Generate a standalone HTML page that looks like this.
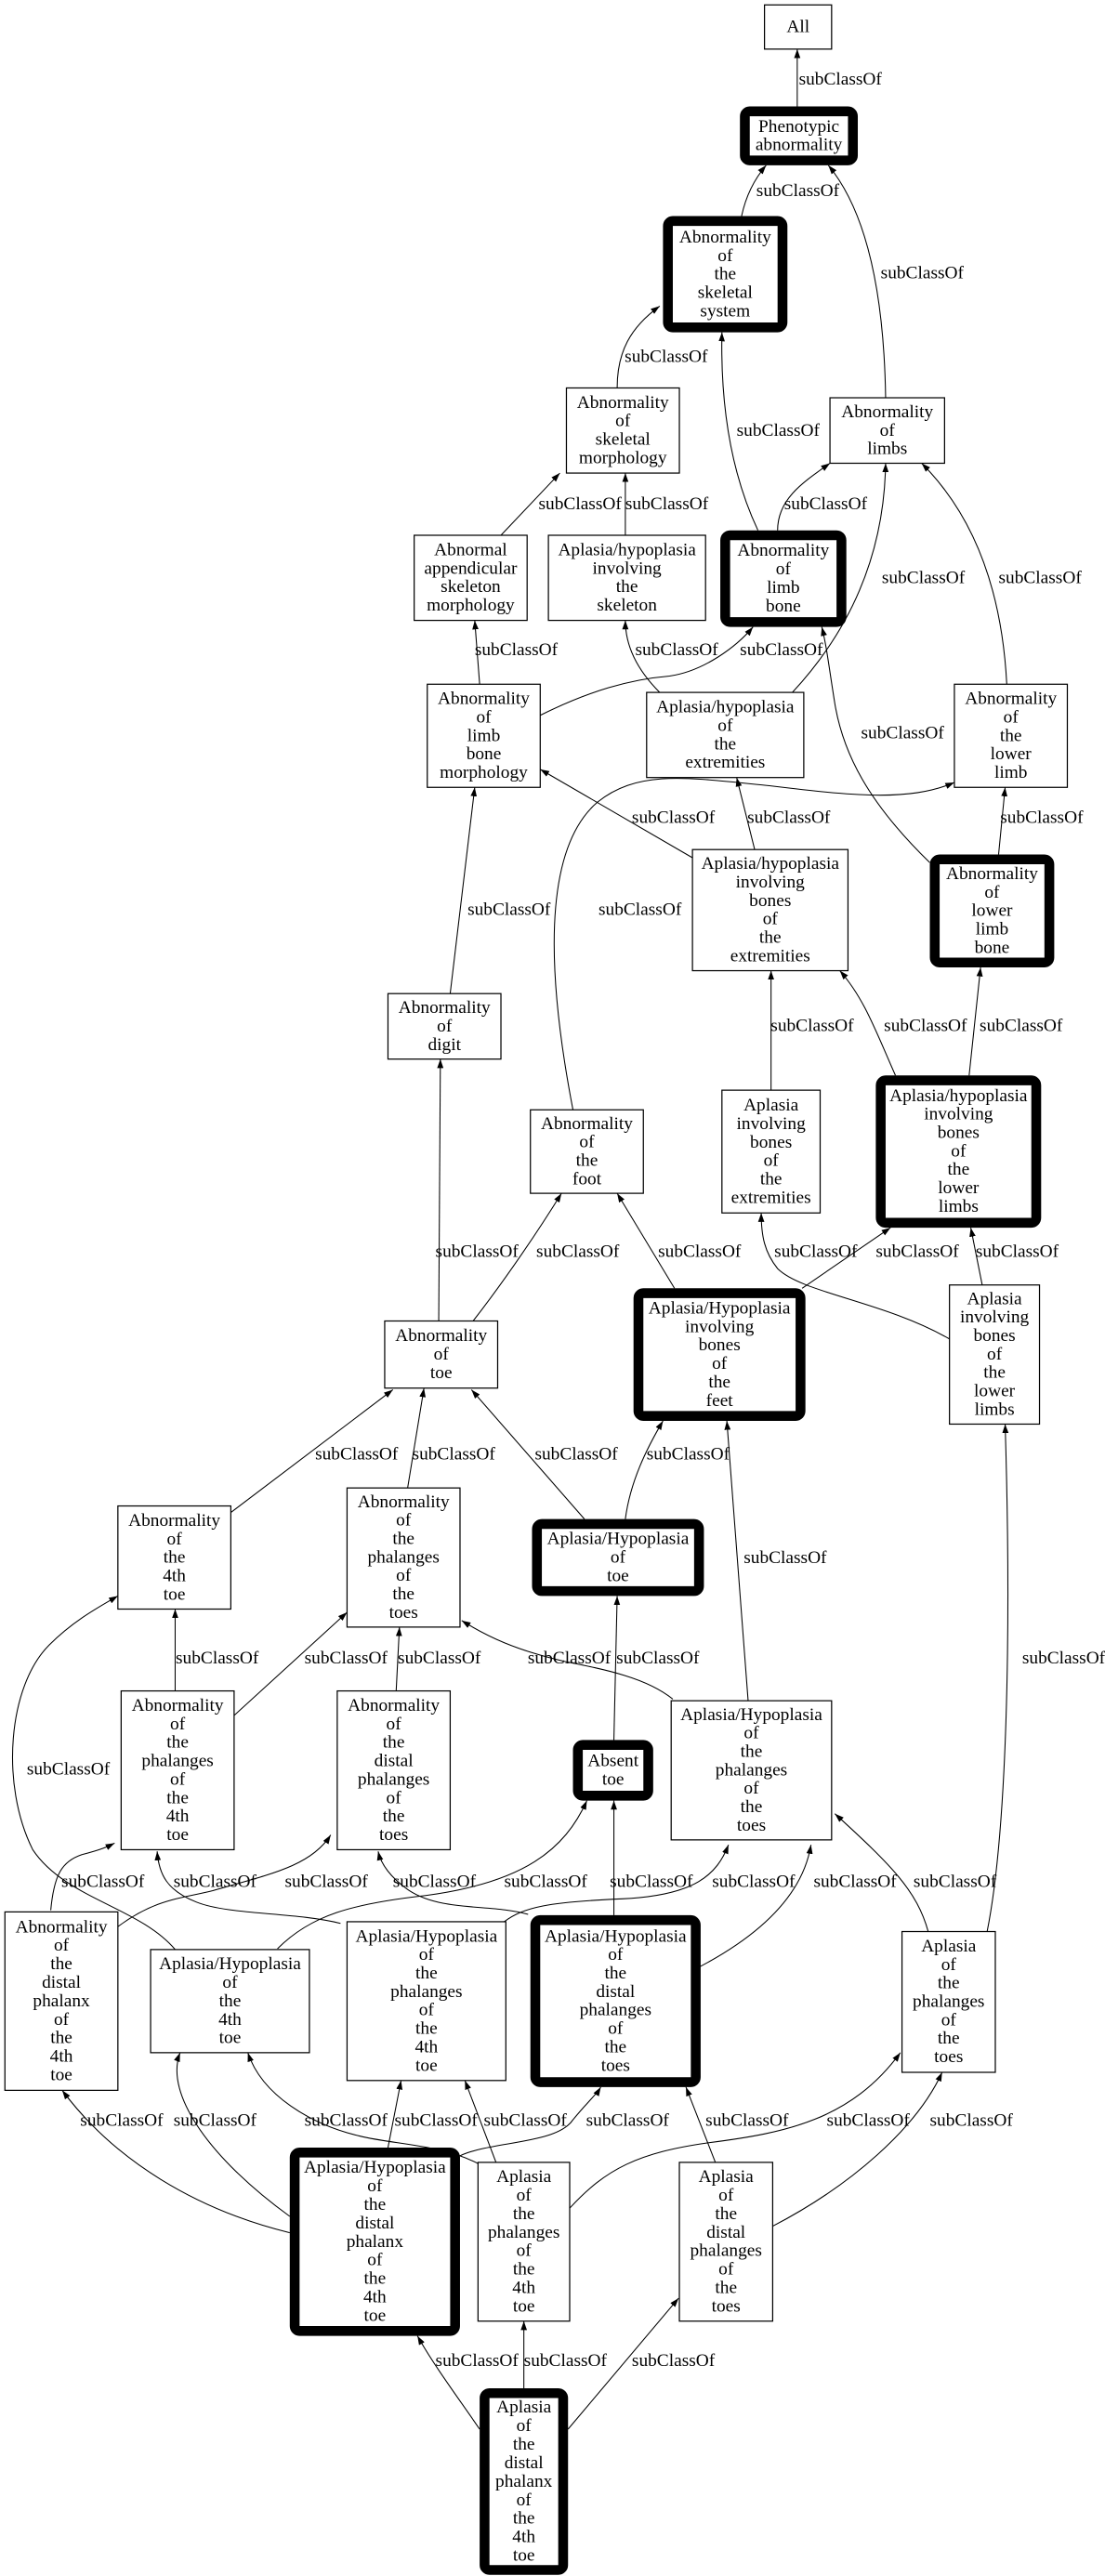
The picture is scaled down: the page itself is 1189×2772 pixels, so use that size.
<!DOCTYPE html>
<html><head><meta charset="utf-8"><style>
html,body{margin:0;padding:0;background:#fff;}
svg{display:block;}
text{font-family:"Liberation Serif",serif;font-size:11px;fill:#000;}
.n{fill:#fff;stroke:#000;stroke-width:0.7;}
.t{fill:#fff;stroke:#000;stroke-width:6;}
.e{fill:none;stroke:#000;stroke-width:0.6;marker-end:url(#a);}
</style></head><body>
<svg xmlns="http://www.w3.org/2000/svg" width="1189" height="2772" viewBox="0 0 675 1573.7">
<defs><marker id="a" markerUnits="userSpaceOnUse" viewBox="0 0 10 7" refX="10" refY="3.5" markerWidth="5.5" markerHeight="3.9" orient="auto"><path d="M0,0 L10,3.5 L0,7 z" fill="#000"/></marker></defs>
<g id="edges">
<path class="e" d="M487,65 L487,30"/>
<path class="e" d="M453,132 C456,118 462,108 468,101"/>
<path class="e" d="M541,243 C540,180 530,130 506,101"/>
<path class="e" d="M377,237 C377,215 385,200 403,187"/>
<path class="e" d="M463,324 C447,290 440,250 441,203"/>
<path class="e" d="M475,324 C475,305 490,295 507,283"/>
<path class="e" d="M306,327 L342,289"/>
<path class="e" d="M382,327 L382,289"/>
<path class="e" d="M293,418 L290,379"/>
<path class="e" d="M330,437 C360,422 385,415 409,413 C430,410 450,395 460,383"/>
<path class="e" d="M403,423 C390,410 382,395 382,379"/>
<path class="e" d="M484,423 C510,395 540,350 541,283"/>
<path class="e" d="M568,527 C530,490 515,460 510,430 C506,405 505,395 502,383"/>
<path class="e" d="M615,418 C612,360 595,315 563,283"/>
<path class="e" d="M423,524 L330,470"/>
<path class="e" d="M461,519 L450,475"/>
<path class="e" d="M610,522 L614,481"/>
<path class="e" d="M350,678 C335,600 330,520 365,490 C390,470 420,475 470,480 C520,486 555,490 583,478"/>
<path class="e" d="M275,607 L290,481"/>
<path class="e" d="M471,666 L471,593"/>
<path class="e" d="M547,657 C535,630 528,610 513,593"/>
<path class="e" d="M592,657 L599,591"/>
<path class="e" d="M268,807 L269,647"/>
<path class="e" d="M289,807 C310,780 330,750 343,729"/>
<path class="e" d="M412,787 L377,729"/>
<path class="e" d="M490,787 L544,750"/>
<path class="e" d="M580,818 C540,795 490,790 475,775 C467,765 465,755 465,741"/>
<path class="e" d="M600,785 L593,750"/>
<path class="e" d="M141,924 L240,849"/>
<path class="e" d="M249,909 L259,848"/>
<path class="e" d="M357,928 L288,849"/>
<path class="e" d="M382,928 C385,905 395,885 405,868"/>
<path class="e" d="M457,1039 L444,868"/>
<path class="e" d="M603,1180 C615,1120 618,1000 614,870"/>
<path class="e" d="M107,1033 L107,983"/>
<path class="e" d="M143,1048 L212,985"/>
<path class="e" d="M242,1033 L244,994"/>
<path class="e" d="M411,1038 C395,1025 370,1020 345,1015 C315,1008 298,1000 282,990"/>
<path class="e" d="M375,1063 L377,975"/>
<path class="e" d="M107,1191 C85,1165 40,1160 20,1130 C0,1090 5,1030 30,1005 C45,990 60,982 72,975"/>
<path class="e" d="M31,1167 C33,1145 38,1137 50,1133 C62,1130 66,1128 70,1126"/>
<path class="e" d="M208,1175 C180,1168 140,1170 120,1162 C102,1155 97,1145 96,1131"/>
<path class="e" d="M72,1177 C95,1160 110,1160 130,1155 C165,1145 190,1140 202,1121"/>
<path class="e" d="M169.5,1190.5 C190,1170 215,1163 260,1158 C320,1150 345,1130 358.5,1100"/>
<path class="e" d="M322.6,1169.5 C300,1163 270,1168 250,1155 C240,1148 233,1140 231,1131"/>
<path class="e" d="M308,1174 C320,1165 335,1162 380,1160 C425,1158 438,1145 445,1127"/>
<path class="e" d="M375,1170 L375,1100"/>
<path class="e" d="M423.6,1203.5 C460,1185 490,1160 495.4,1127"/>
<path class="e" d="M567,1180 C560,1155 545,1140 510,1108"/>
<path class="e" d="M177,1364 C120,1350 70,1320 38,1277"/>
<path class="e" d="M177,1354 C130,1320 100,1280 110,1254"/>
<path class="e" d="M292.5,1322 C270,1310 240,1310 220,1305 C190,1298 160,1280 151.4,1254"/>
<path class="e" d="M237,1312 L245,1271"/>
<path class="e" d="M303,1321 L284,1271"/>
<path class="e" d="M281,1317 C300,1308 340,1310 350,1295 C358,1285 364,1280 367,1275"/>
<path class="e" d="M437,1321 L419,1275"/>
<path class="e" d="M348,1349 C370,1325 390,1315 433,1309 C480,1303 520,1295 550,1254"/>
<path class="e" d="M472,1360 C520,1335 560,1300 575.5,1266"/>
<path class="e" d="M293,1484 C280,1465 265,1445 255,1427"/>
<path class="e" d="M320,1459 L320,1418"/>
<path class="e" d="M347,1484 L414.5,1404"/>
</g>
<g id="labels" dominant-baseline="central">
<text x="488" y="48.6">subClassOf</text>
<text x="462" y="116.6">subClassOf</text>
<text x="538" y="167">subClassOf</text>
<text x="381.6" y="218">subClassOf</text>
<text x="450" y="263">subClassOf</text>
<text x="479" y="308">subClassOf</text>
<text x="329" y="308">subClassOf</text>
<text x="382" y="308">subClassOf</text>
<text x="290" y="397">subClassOf</text>
<text x="452" y="397">subClassOf</text>
<text x="388" y="397">subClassOf</text>
<text x="538.7" y="353">subClassOf</text>
<text x="526" y="448">subClassOf</text>
<text x="610" y="353">subClassOf</text>
<text x="386" y="499.5">subClassOf</text>
<text x="456.5" y="499.5">subClassOf</text>
<text x="611" y="499.5">subClassOf</text>
<text x="365.6" y="555.8">subClassOf</text>
<text x="285.6" y="555.8">subClassOf</text>
<text x="470.8" y="626.7">subClassOf</text>
<text x="540" y="626.7">subClassOf</text>
<text x="598.4" y="626.7">subClassOf</text>
<text x="266" y="764.8">subClassOf</text>
<text x="327.6" y="764.8">subClassOf</text>
<text x="402" y="764.8">subClassOf</text>
<text x="535" y="764.8">subClassOf</text>
<text x="473" y="764.8">subClassOf</text>
<text x="596" y="764.8">subClassOf</text>
<text x="192.5" y="888.5">subClassOf</text>
<text x="251.8" y="888.5">subClassOf</text>
<text x="326.7" y="888.5">subClassOf</text>
<text x="395" y="888.5">subClassOf</text>
<text x="454.3" y="951.9">subClassOf</text>
<text x="624.4" y="1013">subClassOf</text>
<text x="107.3" y="1013">subClassOf</text>
<text x="186" y="1013">subClassOf</text>
<text x="243" y="1013">subClassOf</text>
<text x="322.4" y="1013">subClassOf</text>
<text x="376.5" y="1013">subClassOf</text>
<text x="16.4" y="1081">subClassOf</text>
<text x="37.5" y="1149.6">subClassOf</text>
<text x="106" y="1149.6">subClassOf</text>
<text x="174" y="1149.6">subClassOf</text>
<text x="308" y="1149.6">subClassOf</text>
<text x="240" y="1149.6">subClassOf</text>
<text x="435" y="1149.6">subClassOf</text>
<text x="372.5" y="1149.6">subClassOf</text>
<text x="497" y="1149.6">subClassOf</text>
<text x="558" y="1149.6">subClassOf</text>
<text x="49" y="1295.4">subClassOf</text>
<text x="106" y="1295.4">subClassOf</text>
<text x="186" y="1295.4">subClassOf</text>
<text x="241" y="1295.4">subClassOf</text>
<text x="295.5" y="1295.4">subClassOf</text>
<text x="358" y="1295.4">subClassOf</text>
<text x="431" y="1295.4">subClassOf</text>
<text x="505" y="1295.4">subClassOf</text>
<text x="568" y="1295.4">subClassOf</text>
<text x="266" y="1442.4">subClassOf</text>
<text x="320" y="1442.4">subClassOf</text>
<text x="386" y="1442.4">subClassOf</text>
</g>
<g id="nodes" text-anchor="middle" dominant-baseline="central">
<rect class="n" x="467" y="3" width="41" height="27"/><text x="487.5" y="16.5">All</text>
<rect class="t" x="455" y="68" width="66" height="30" rx="3"/><text x="488" y="77.4">Phenotypic</text><text x="488" y="88.7">abnormality</text>
<rect class="t" x="408" y="135" width="70" height="65" rx="3"/><text x="443" y="145">Abnormality</text><text x="443" y="156.3">of</text><text x="443" y="167.5">the</text><text x="443" y="178.8">skeletal</text><text x="443" y="190.1">system</text>
<rect class="n" x="346" y="237" width="69" height="52"/><text x="380.5" y="246.1">Abnormality</text><text x="380.5" y="257.3">of</text><text x="380.5" y="268.6">skeletal</text><text x="380.5" y="279.9">morphology</text>
<rect class="n" x="507" y="243" width="70" height="40"/><text x="542" y="251.7">Abnormality</text><text x="542" y="263">of</text><text x="542" y="274.3">limbs</text>
<rect class="n" x="253" y="327" width="69" height="52"/><text x="287.5" y="336.1">Abnormal</text><text x="287.5" y="347.3">appendicular</text><text x="287.5" y="358.6">skeleton</text><text x="287.5" y="369.9">morphology</text>
<rect class="n" x="335" y="327" width="96" height="52"/><text x="383" y="336.1">Aplasia/hypoplasia</text><text x="383" y="347.3">involving</text><text x="383" y="358.6">the</text><text x="383" y="369.9">skeleton</text>
<rect class="t" x="443" y="327" width="71" height="53" rx="3"/><text x="478.5" y="336.5">Abnormality</text><text x="478.5" y="347.8">of</text><text x="478.5" y="359.1">limb</text><text x="478.5" y="370.4">bone</text>
<rect class="n" x="261" y="418" width="69" height="63"/><text x="295.5" y="427">Abnormality</text><text x="295.5" y="438.3">of</text><text x="295.5" y="449.5">limb</text><text x="295.5" y="460.8">bone</text><text x="295.5" y="472.1">morphology</text>
<rect class="n" x="395" y="423" width="96" height="52"/><text x="443" y="432.1">Aplasia/hypoplasia</text><text x="443" y="443.3">of</text><text x="443" y="454.6">the</text><text x="443" y="465.9">extremities</text>
<rect class="n" x="583" y="418" width="69" height="63"/><text x="617.5" y="427">Abnormality</text><text x="617.5" y="438.3">of</text><text x="617.5" y="449.5">the</text><text x="617.5" y="460.8">lower</text><text x="617.5" y="472.1">limb</text>
<rect class="n" x="423" y="519" width="95" height="74"/><text x="470.5" y="527.8">Aplasia/hypoplasia</text><text x="470.5" y="539.1">involving</text><text x="470.5" y="550.4">bones</text><text x="470.5" y="561.6">of</text><text x="470.5" y="572.9">the</text><text x="470.5" y="584.2">extremities</text>
<rect class="t" x="571" y="525" width="70" height="63" rx="3"/><text x="606" y="534">Abnormality</text><text x="606" y="545.3">of</text><text x="606" y="556.5">lower</text><text x="606" y="567.8">limb</text><text x="606" y="579.1">bone</text>
<rect class="n" x="237" y="607" width="69" height="40"/><text x="271.5" y="615.7">Abnormality</text><text x="271.5" y="627">of</text><text x="271.5" y="638.3">digit</text>
<rect class="n" x="324" y="678" width="69" height="51"/><text x="358.5" y="686.6">Abnormality</text><text x="358.5" y="697.8">of</text><text x="358.5" y="709.1">the</text><text x="358.5" y="720.4">foot</text>
<rect class="n" x="441" y="666" width="60" height="75"/><text x="471" y="675.3">Aplasia</text><text x="471" y="686.6">involving</text><text x="471" y="697.9">bones</text><text x="471" y="709.1">of</text><text x="471" y="720.4">the</text><text x="471" y="731.7">extremities</text>
<rect class="t" x="538" y="660" width="95" height="87" rx="3"/><text x="585.5" y="669.6">Aplasia/hypoplasia</text><text x="585.5" y="680.8">involving</text><text x="585.5" y="692.1">bones</text><text x="585.5" y="703.4">of</text><text x="585.5" y="714.6">the</text><text x="585.5" y="725.9">lower</text><text x="585.5" y="737.2">limbs</text>
<rect class="n" x="235" y="807" width="69" height="41"/><text x="269.5" y="816.2">Abnormality</text><text x="269.5" y="827.5">of</text><text x="269.5" y="838.8">toe</text>
<rect class="t" x="390" y="790" width="99" height="75" rx="3"/><text x="439.5" y="799.3">Aplasia/Hypoplasia</text><text x="439.5" y="810.6">involving</text><text x="439.5" y="821.9">bones</text><text x="439.5" y="833.1">of</text><text x="439.5" y="844.4">the</text><text x="439.5" y="855.7">feet</text>
<rect class="n" x="580" y="785" width="55" height="85"/><text x="607.5" y="793.6">Aplasia</text><text x="607.5" y="804.8">involving</text><text x="607.5" y="816.1">bones</text><text x="607.5" y="827.4">of</text><text x="607.5" y="838.6">the</text><text x="607.5" y="849.9">lower</text><text x="607.5" y="861.2">limbs</text>
<rect class="n" x="72" y="920" width="69" height="63"/><text x="106.5" y="929">Abnormality</text><text x="106.5" y="940.3">of</text><text x="106.5" y="951.5">the</text><text x="106.5" y="962.8">4th</text><text x="106.5" y="974.1">toe</text>
<rect class="n" x="212" y="909" width="69" height="85"/><text x="246.5" y="917.6">Abnormality</text><text x="246.5" y="928.8">of</text><text x="246.5" y="940.1">the</text><text x="246.5" y="951.4">phalanges</text><text x="246.5" y="962.6">of</text><text x="246.5" y="973.9">the</text><text x="246.5" y="985.2">toes</text>
<rect class="t" x="328" y="931" width="99" height="41" rx="3"/><text x="377.5" y="940.2">Aplasia/Hypoplasia</text><text x="377.5" y="951.5">of</text><text x="377.5" y="962.8">toe</text>
<rect class="n" x="74" y="1033" width="69" height="97"/><text x="108.5" y="1042">Abnormality</text><text x="108.5" y="1053.3">of</text><text x="108.5" y="1064.5">the</text><text x="108.5" y="1075.8">phalanges</text><text x="108.5" y="1087.1">of</text><text x="108.5" y="1098.4">the</text><text x="108.5" y="1109.7">4th</text><text x="108.5" y="1121">toe</text>
<rect class="n" x="206" y="1033" width="69" height="97"/><text x="240.5" y="1042">Abnormality</text><text x="240.5" y="1053.3">of</text><text x="240.5" y="1064.5">the</text><text x="240.5" y="1075.8">distal</text><text x="240.5" y="1087.1">phalanges</text><text x="240.5" y="1098.4">of</text><text x="240.5" y="1109.7">the</text><text x="240.5" y="1121">toes</text>
<rect class="t" x="353" y="1066" width="43" height="31" rx="3"/><text x="374.5" y="1075.9">Absent</text><text x="374.5" y="1087.1">toe</text>
<rect class="n" x="410" y="1039" width="98" height="85"/><text x="459" y="1047.6">Aplasia/Hypoplasia</text><text x="459" y="1058.8">of</text><text x="459" y="1070.1">the</text><text x="459" y="1081.4">phalanges</text><text x="459" y="1092.6">of</text><text x="459" y="1103.9">the</text><text x="459" y="1115.2">toes</text>
<rect class="n" x="3" y="1168" width="69" height="109"/><text x="37.5" y="1177.3">Abnormality</text><text x="37.5" y="1188.6">of</text><text x="37.5" y="1199.9">the</text><text x="37.5" y="1211.2">distal</text><text x="37.5" y="1222.5">phalanx</text><text x="37.5" y="1233.8">of</text><text x="37.5" y="1245.1">the</text><text x="37.5" y="1256.4">4th</text><text x="37.5" y="1267.7">toe</text>
<rect class="n" x="92" y="1191" width="97" height="63"/><text x="140.5" y="1200">Aplasia/Hypoplasia</text><text x="140.5" y="1211.3">of</text><text x="140.5" y="1222.5">the</text><text x="140.5" y="1233.8">4th</text><text x="140.5" y="1245.1">toe</text>
<rect class="n" x="212" y="1174" width="97" height="97"/><text x="260.5" y="1183">Aplasia/Hypoplasia</text><text x="260.5" y="1194.3">of</text><text x="260.5" y="1205.5">the</text><text x="260.5" y="1216.8">phalanges</text><text x="260.5" y="1228.1">of</text><text x="260.5" y="1239.4">the</text><text x="260.5" y="1250.7">4th</text><text x="260.5" y="1262">toe</text>
<rect class="t" x="327" y="1173" width="98" height="99" rx="3"/><text x="376" y="1183">Aplasia/Hypoplasia</text><text x="376" y="1194.3">of</text><text x="376" y="1205.5">the</text><text x="376" y="1216.8">distal</text><text x="376" y="1228.1">phalanges</text><text x="376" y="1239.4">of</text><text x="376" y="1250.7">the</text><text x="376" y="1262">toes</text>
<rect class="n" x="551" y="1180" width="57" height="86"/><text x="579.5" y="1189.1">Aplasia</text><text x="579.5" y="1200.3">of</text><text x="579.5" y="1211.6">the</text><text x="579.5" y="1222.9">phalanges</text><text x="579.5" y="1234.1">of</text><text x="579.5" y="1245.4">the</text><text x="579.5" y="1256.7">toes</text>
<rect class="t" x="180" y="1315" width="98" height="109" rx="3"/><text x="229" y="1324.3">Aplasia/Hypoplasia</text><text x="229" y="1335.6">of</text><text x="229" y="1346.9">the</text><text x="229" y="1358.2">distal</text><text x="229" y="1369.5">phalanx</text><text x="229" y="1380.8">of</text><text x="229" y="1392.1">the</text><text x="229" y="1403.4">4th</text><text x="229" y="1414.7">toe</text>
<rect class="n" x="292" y="1321" width="56" height="97"/><text x="320" y="1330">Aplasia</text><text x="320" y="1341.3">of</text><text x="320" y="1352.5">the</text><text x="320" y="1363.8">phalanges</text><text x="320" y="1375.1">of</text><text x="320" y="1386.4">the</text><text x="320" y="1397.7">4th</text><text x="320" y="1409">toe</text>
<rect class="n" x="415" y="1321" width="57" height="97"/><text x="443.5" y="1330">Aplasia</text><text x="443.5" y="1341.3">of</text><text x="443.5" y="1352.5">the</text><text x="443.5" y="1363.8">distal</text><text x="443.5" y="1375.1">phalanges</text><text x="443.5" y="1386.4">of</text><text x="443.5" y="1397.7">the</text><text x="443.5" y="1409">toes</text>
<rect class="t" x="296" y="1462" width="48" height="108" rx="3"/><text x="320" y="1470.8">Aplasia</text><text x="320" y="1482.1">of</text><text x="320" y="1493.4">the</text><text x="320" y="1504.7">distal</text><text x="320" y="1516">phalanx</text><text x="320" y="1527.3">of</text><text x="320" y="1538.6">the</text><text x="320" y="1549.9">4th</text><text x="320" y="1561.2">toe</text>
</g>
</svg>
</body></html>
